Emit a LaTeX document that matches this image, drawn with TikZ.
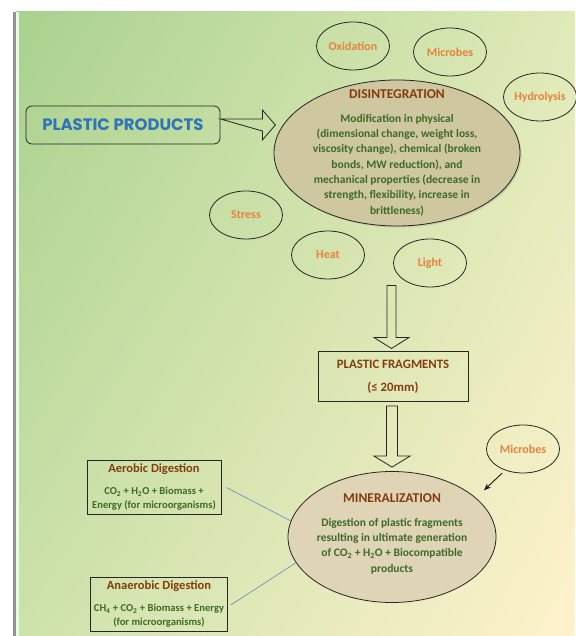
\documentclass[tikz,border=0pt]{standalone}
\usepackage{fontspec}
\setmainfont{Carlito}
\newfontfamily\headfont{Poppins}
\usetikzlibrary{shapes.geometric,shadows,shadings,calc,arrows.meta}
\definecolor{bgtl}{HTML}{A9D18E}
\definecolor{bgtr}{HTML}{DFEAB8}
\definecolor{bgbl}{HTML}{CDE2AB}
\definecolor{bgbr}{HTML}{FFF2CC}
\definecolor{titlec}{HTML}{843C0C}
\definecolor{bodyc}{HTML}{3D6B26}
\definecolor{factorc}{HTML}{E5823E}
\definecolor{ppblue}{HTML}{2E75B6}
\definecolor{linkblue}{HTML}{5B8BC9}
\definecolor{disfill}{RGB}{206,199,160}
\definecolor{minfill}{RGB}{224,212,183}
\newcommand{\stagetitle}[2]{{\fontsize{#1}{15}\selectfont\textcolor{titlec}{#2}}}
\tikzset{
  factor/.style={ellipse,draw=black!85,line width=0.8pt,minimum width=73pt,minimum height=48pt,
    inner sep=0pt,text=factorc,font=\fontsize{12}{14}\selectfont\bfseries},
  stage/.style={ellipse,draw=black!85,line width=0.8pt},
  stagetext/.style={align=center,text=bodyc,font=\fontsize{11.5}{15.3}\selectfont\bfseries},
  digestbox/.style={rectangle,draw=black!85,line width=0.8pt,align=center,text=bodyc,
    font=\fontsize{10.6}{14}\selectfont\bfseries},
  hollow/.style={draw=black!85,line width=0.8pt,line join=miter},
  bluelink/.style={draw=linkblue,line width=0.6pt}
}
\begin{document}
\begin{tikzpicture}[x=1pt,y=1pt]
\useasboundingbox (0,0) rectangle (575,636);
\fill[white] (0,0) rectangle (575,636);
\shade[upper left=bgtl,upper right=bgtr,lower left=bgbl,lower right=bgbr] (16,0) rectangle (575,624);
\fill[gray!85] (13,0) rectangle (16,624);
\fill[green!10] (16,0) rectangle (18.5,624);
% first stage
\node[rectangle,rounded corners=6pt,draw=black!85,line width=0.8pt,minimum width=194pt,minimum height=38pt,
  text=ppblue,font=\headfont\fontsize{16.5}{18}\selectfont\bfseries] (pp) at (123,511) {PLASTIC PRODUCTS};
\node[stage,minimum width=246pt,minimum height=146pt,fill=disfill,
  drop shadow={opacity=0.25,shadow xshift=1.5pt,shadow yshift=-1.5pt}] (dis) at (397,483) {};
\node[stagetext] (distext) at (dis.center) {\stagetitle{13.5}{DISINTEGRATION}\\[8pt]
  Modification in physical\\ (dimensional change, weight loss,\\ viscosity change), chemical (broken\\
  bonds, MW reduction), and\\ mechanical properties (decrease in\\ strength, flexibility, increase in\\ brittleness)};
\node[factor] (oxid) at (353,590) {Oxidation};
\node[factor] (mic) at (450,584) {Microbes};
\node[factor] (hydro) at (540,539) {Hydrolysis};
\node[factor] (stress) at (246,421) {Stress};
\node[factor] (heat) at (328,381) {Heat};
\node[factor] (light) at (430,373) {Light};
\draw[hollow] ($(pp.east)+(0,6)$) -- ++(42,0) -- ++(0,9) -- ++(13,-15) -- ++(-13,-15) -- ++(0,9) -- cycle;
% fragments
\node[rectangle,draw=black!85,line width=1pt,minimum width=150pt,minimum height=50pt,align=center,
  text=titlec,font=\fontsize{12.8}{15}\selectfont\bfseries] (frag) at (393,259) {PLASTIC FRAGMENTS\\[8pt](≤ 20mm)};
\coordinate (tip1) at ($(frag.north)+(-1.5,3)$);
\draw[hollow] (tip1) -- ++(-17.5,11) -- ++(13,0) -- ++(0,52) -- ++(9,0) -- ++(0,-52) -- ++(13,0) -- cycle;
% mineralization
\node[stage,minimum width=208pt,minimum height=131pt,fill=minfill] (min) at (392,99) {};
\node[stagetext] (mintext) at ($(min.center)+(0,3)$) {\stagetitle{13.5}{MINERALIZATION}\\[8pt]
  Digestion of plastic fragments\\ resulting in ultimate generation\\
  of CO\textsubscript{2} + H\textsubscript{2}O + Biocompatible\\ products};
\coordinate (tip2) at ($(min.north)+(0,4)$);
\draw[hollow] (tip2) -- ++(-18,11) -- ++(12.5,0) -- ++(0,50) -- ++(11,0) -- ++(0,-50) -- ++(12.5,0) -- cycle;
\node[factor] (mic2) at (523,187) {Microbes};
\draw[-{Stealth[length=7pt,width=5.5pt]},line width=0.9pt,black!90,shorten <=4pt,shorten >=11pt] (mic2.230) -- (min.25);
% digestion routes
\node[digestbox,minimum width=134pt,minimum height=53pt] (aer) at (154,148.5) {\stagetitle{12.5}{Aerobic Digestion}\\[8pt]
  CO\textsubscript{2} + H\textsubscript{2}O + Biomass +\\ Energy (for microorganisms)};
\node[digestbox,minimum width=136pt,minimum height=54pt] (ana) at (159,32) {\stagetitle{12.5}{Anaerobic Digestion}\\[8pt]
  CH\textsubscript{4} + CO\textsubscript{2} + Biomass + Energy\\ (for microorganisms)};
\draw[bluelink] ($(aer.east)+(5,0)$) -- (min.171);
\draw[bluelink] ($(ana.east)+(3,-1)$) -- (min.195);
\end{tikzpicture}
\end{document}
